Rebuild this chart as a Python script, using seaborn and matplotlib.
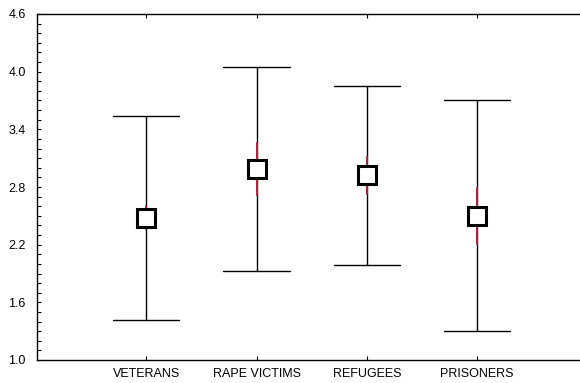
import numpy as np
import pandas as pd
import matplotlib
matplotlib.use("Agg")
import matplotlib.pyplot as plt
from matplotlib.ticker import MultipleLocator
import seaborn as sns

groups = ["VETERANS", "RAPE VICTIMS", "REFUGEES", "PRISONERS"]
means = [2.48, 2.99, 2.92, 2.50]
sds = [1.06, 1.06, 0.93, 1.20]
ses = [0.12, 0.27, 0.19, 0.29]
yticks = [1.0, 1.6, 2.2, 2.8, 3.4, 4.0, 4.6]


def spread(widths):
    # two rows per group (mean - w, mean + w) so seaborn's mean / min-max gives the bar
    rows = []
    for g, m, w in zip(groups, means, widths):
        rows.append({"group": g, "value": m - w})
        rows.append({"group": g, "value": m + w})
    return pd.DataFrame(rows)


sns.set_theme(style="ticks")
plt.rcParams["font.family"] = ["Liberation Sans", "DejaVu Sans"]

fig = plt.figure(figsize=(5.8, 3.83), dpi=100)
ax = fig.add_axes([37 / 580, 23 / 383, 550.5 / 580, 346 / 383])

# +/- sd whiskers with caps
sns.pointplot(data=spread(sds), x="group", y="value", order=groups,
              estimator="mean", errorbar=("pi", 100), capsize=0.6,
              color="black", linestyle="none", marker="", markersize=0,
              err_kws={"linewidth": 1.0, "color": "black"}, ax=ax)
# +/- se in red
sns.pointplot(data=spread(ses), x="group", y="value", order=groups,
              estimator="mean", errorbar=("pi", 100), capsize=0,
              color="#b0203c", linestyle="none", marker="", markersize=0,
              err_kws={"linewidth": 1.4, "color": "#b0203c"}, ax=ax)
# mean squares
sns.pointplot(data=spread(sds), x="group", y="value", order=groups,
              estimator="mean", errorbar=None, color="black",
              linestyle="none", marker="s", markersize=13,
              markerfacecolor="white", markeredgecolor="black",
              markeredgewidth=2.2, zorder=5, ax=ax)

ax.set_xlim(-0.99, 4.0)
ax.set_ylim(1.0, 4.6)
ax.set_yticks(yticks)
ax.set_yticklabels([f"{v:.1f}" for v in yticks])
ax.yaxis.set_minor_locator(MultipleLocator(0.1))
ax.set_xlabel("")
ax.set_ylabel("")

for s in ax.spines.values():
    s.set_color("black")
    s.set_linewidth(1.0)
ax.spines["right"].set_visible(False)

ax.tick_params(axis="y", which="both", direction="in", length=3, width=0.8,
               labelsize=9, pad=8, colors="black")
ax.tick_params(axis="x", which="both", direction="in", length=3, width=0.8,
               top=True, labelsize=9, pad=6, colors="black")
ax.grid(False)

fig.savefig("out.png", dpi=100)
